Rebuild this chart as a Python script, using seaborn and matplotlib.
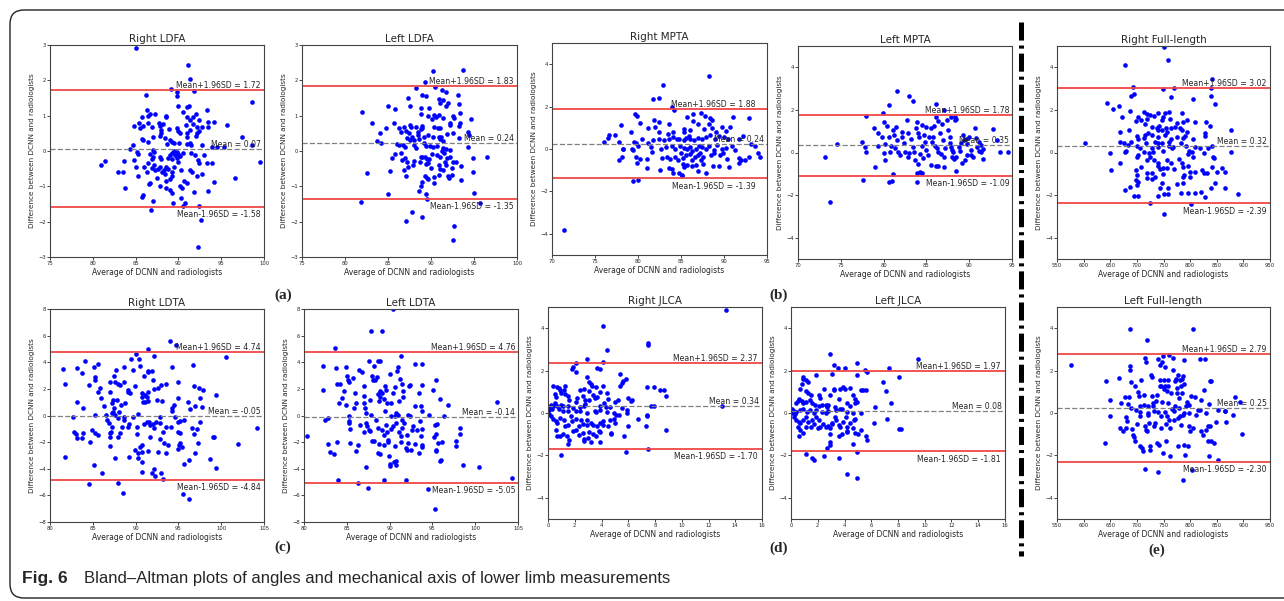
import numpy as np
import pandas as pd
import seaborn as sns
import matplotlib.pyplot as plt
from matplotlib.lines import Line2D
from matplotlib.patches import FancyBboxPatch

sns.set_style("ticks")
plt.rcParams['font.family'] = ['DejaVu Sans']
plt.rcParams['lines.scale_dashes'] = False

# (average, difference) pairs
right_ldfa = [(85.0,2.92),(91.1,2.43),(91.4,2.03),(89.1,1.76),(91.8,1.69),(89.8,1.68),(89.8,1.56),(86.2,1.59),(98.6,1.39),
    (89.9,1.26),(91.0,1.25),(91.2,1.28),(93.3,1.16),(86.3,1.16),(86.7,1.05),(87.3,1.05),(86.4,0.98),(90.5,1.09),(92.0,1.06),
    (85.7,0.95),(88.6,1.0),(88.5,0.96),(91.0,0.97),(91.3,0.88),(91.7,0.95),(92.4,0.88),(85.4,0.8),(85.9,0.72),(86.5,0.8),
    (84.8,0.7),(87.7,0.8),(87.9,0.71),(88.2,0.77),(85.5,0.66),(86.9,0.69),(88.9,0.63),(89.8,0.65),(90.0,0.57),(90.2,0.52),
    (91.3,0.6),(92.2,0.68),(92.4,0.58),(92.7,0.67),(93.4,0.83),(93.5,0.68),(94.2,0.82),(95.7,0.73),(91.7,0.76),(90.9,0.75),
    (97.4,0.4),(92.2,0.5),(92.1,0.43),(91.0,0.52),(91.0,0.4),(88.0,0.6),(88.0,0.5),(87.9,0.43),(87.0,0.4),(85.7,0.33),
    (85.9,0.3),(86.4,0.25),(84.7,0.18),(88.4,0.38),(89.0,0.3),(89.5,0.22),(90.1,0.24),(91.0,0.2),(91.3,0.24),(91.5,0.18),
    (92.7,0.18),(93.9,0.1),(94.5,0.12),(88.7,0.2),(89.2,0.25),(98.6,0.16),(84.3,0.07),(85.2,-0.04),(85.3,-0.08),(84.8,-0.25),
    (87.0,0.03),(87.1,-0.02),(86.7,-0.08),(87.0,-0.16),(86.9,-0.23),(87.8,-0.16),(88.0,-0.23),(89.3,-0.05),(89.6,-0.1),
    (89.8,-0.02),(90.0,-0.08),(90.2,-0.15),(89.8,-0.2),(90.0,-0.32),(89.0,-0.1),(88.8,-0.2),(89.2,-0.23),(91.5,-0.05),
    (91.9,-0.1),(92.3,-0.25),(93.0,-0.1),(92.4,-0.35),(93.3,-0.35),(95.3,0.1),(99.5,-0.3),(89.5,0.0),(90.5,-0.05),
    (87.2,-0.4),(87.6,-0.5),(88.3,-0.55),(88.1,-0.6),(87.9,-0.45),(88.6,-0.45),(88.8,-0.5),(89.3,-0.6),(89.5,-0.45),
    (86.4,-0.35),(86.9,-0.48),(86.0,-0.45),(86.3,-0.6),(86.7,-0.9),(86.6,-0.93),(87.3,-0.55),(85.1,-0.45),(85.3,-0.7),
    (82.9,-0.6),(83.5,-0.6),(80.9,-0.4),(81.4,-0.27),(83.7,-0.27),(90.3,-0.55),(91.3,-0.55),(91.6,-0.6),(92.7,-0.65),
    (92.2,-0.7),(93.9,-0.35),(96.6,-0.76),(89.0,-0.8),(89.2,-0.7),(88.4,-0.65),(90.7,-0.85),(91.0,-0.9),(83.8,-1.05),
    (87.8,-1.0),(89.0,-1.1),(88.6,-1.05),(90.2,-1.0),(90.4,-1.05),(91.8,-1.15),(93.4,-1.12),(94.2,-0.88),(85.7,-1.3),
    (85.9,-1.25),(89.2,-1.2),(90.3,-1.33),(89.4,-1.48),(90.8,-1.48),(90.5,-1.57),(92.4,-1.57),(87.0,-1.42),(86.8,-1.68),
    (92.6,-1.95),(92.3,-2.73),(88.6,-0.85),(87.5,-0.75)]

left_ldfa = [(90.2,2.26),(93.7,2.30),(89.3,1.96),(90.5,1.80),(88.2,1.78),(91.3,1.73),(91.7,1.68),(88.9,1.59),(89.4,1.57),
    (93.1,1.59),(87.3,1.49),(90.9,1.48),(91.4,1.44),(91.1,1.35),(92.0,1.37),(91.8,1.28),(85.0,1.28),(85.8,1.18),(82.0,1.1),
    (87.5,1.26),(88.8,1.21),(89.8,1.23),(93.3,1.33),(93.4,1.07),(88.8,1.05),(90.4,1.02),(90.6,0.96),(90.9,1.02),(89.7,0.98),
    (90.1,0.9),(91.4,0.93),(92.6,0.98),(92.7,0.93),(94.6,0.9),(83.1,0.79),(85.7,0.8),(84.8,0.66),(86.3,0.64),(86.9,0.67),
    (87.6,0.74),(87.7,0.69),(88.3,0.69),(88.9,0.71),(89.0,0.66),(88.8,0.62),(90.3,0.69),(90.8,0.66),(91.1,0.64),(92.2,0.74),
    (92.2,0.79),(93.3,0.71),(93.4,0.79),(84.1,0.5),(86.5,0.55),(87.1,0.58),(87.4,0.52),(88.5,0.55),(88.5,0.46),(87.8,0.41),
    (87.2,0.36),(87.6,0.32),(88.0,0.32),(88.6,0.33),(89.2,0.39),(89.7,0.46),(90.2,0.39),(90.9,0.41),(91.2,0.41),(91.1,0.33),
    (91.4,0.27),(91.9,0.48),(92.5,0.52),(93.3,0.38),(94.3,0.55),(94.4,0.46),(83.7,0.27),(84.2,0.24),(86.1,0.19),(86.3,0.17),
    (86.7,0.16),(87.0,0.1),(88.0,0.16),(88.3,0.08),(89.2,0.22),(89.4,0.13),(89.9,0.13),(90.2,0.1),(90.7,0.13),(91.3,0.0),
    (91.4,0.08),(91.8,0.05),(92.2,0.03),(94.3,0.1),(85.8,-0.09),(86.5,-0.06),(85.5,-0.2),(86.6,-0.25),(87.0,-0.2),
    (87.2,-0.32),(87.3,-0.44),(87.9,-0.41),(88.0,-0.28),(88.7,-0.3),(88.8,-0.17),(89.0,-0.16),(89.3,-0.18),(89.5,-0.23),
    (89.8,-0.23),(90.1,-0.09),(90.7,-0.11),(91.1,-0.16),(91.5,-0.06),(91.6,-0.3),(91.9,-0.2),(92.2,-0.16),(92.5,-0.32),
    (92.9,-0.32),(93.5,-0.42),(94.9,-0.2),(96.5,-0.18),(89.4,-0.36),(89.6,-0.34),(90.0,-0.47),(90.9,-0.39),(91.4,-0.53),
    (92.4,-0.48),(86.9,-0.55),(87.1,-0.7),(85.2,-0.56),(82.5,-0.63),(89.3,-0.7),(89.5,-0.77),(90.4,-0.74),(90.9,-0.67),
    (90.4,-0.91),(89.0,-0.87),(88.8,-1.0),(88.6,-1.14),(89.7,-0.8),(92.0,-0.7),(92.4,-0.67),(92.1,-0.75),(93.5,-0.81),
    (94.9,-0.6),(85.0,-1.21),(89.4,-1.22),(89.5,-1.36),(81.9,-1.44),(95.0,-1.19),(95.7,-1.47),(87.8,-1.74),(87.1,-1.97),
    (89.0,-1.87),(92.7,-2.13),(92.6,-2.53),(91.1,-0.5),(91.8,-0.4)]

right_mpta = [(71.4,-3.82),(88.2,3.45),(82.9,3.04),(81.7,2.35),(82.5,2.41),(84.0,1.99),(84.2,1.86),(87.3,1.72),(85.7,1.53),
    (86.4,1.66),(87.8,1.56),(88.4,1.48),(88.6,1.39),(91.0,1.51),(92.9,1.44),(79.6,1.66),(79.9,1.56),(81.9,1.39),(80.2,1.23),
    (82.4,1.28),(81.2,1.01),(82.0,1.03),(78.0,1.11),(83.6,1.2),(87.0,1.2),(86.4,1.34),(88.2,1.17),(85.4,0.95),(85.4,0.82),
    (83.5,0.73),(84.1,0.78),(82.4,0.79),(86.1,0.9),(87.7,0.95),(88.6,1.01),(89.1,0.82),(89.8,1.04),(90.2,0.86),(90.7,1.02),
    (79.2,0.78),(76.6,0.65),(77.3,0.65),(76.5,0.54),(76.1,0.35),(77.8,0.34),(79.5,0.35),(79.8,0.26),(80.5,0.48),(81.7,0.42),
    (81.2,0.29),(82.5,0.49),(83.0,0.42),(83.6,0.49),(84.1,0.57),(84.5,0.46),(84.8,0.45),(85.3,0.42),(85.6,0.53),(85.9,0.62),
    (86.1,0.49),(86.5,0.42),(87.0,0.54),(87.5,0.46),(87.9,0.57),(88.4,0.65),(89.0,0.45),(89.4,0.6),(90.0,0.57),(90.5,0.45),
    (91.8,0.49),(92.2,0.6),(93.1,0.23),(93.6,0.13),(78.3,0.0),(78.3,-0.01),(79.3,0.02),(79.4,-0.05),(80.0,0.13),(81.5,0.1),
    (82.7,0.02),(83.2,0.1),(83.9,0.13),(84.3,-0.02),(84.9,0.13),(85.0,-0.18),(85.4,0.07),(85.7,-0.02),(86.1,0.1),(86.3,-0.09),
    (86.7,0.02),(87.1,0.13),(87.4,0.1),(87.9,0.02),(88.2,0.15),(88.8,-0.05),(89.2,0.18),(89.8,-0.02),(90.2,0.05),(90.9,0.13),
    (91.3,-0.05),(77.8,-0.51),(78.1,-0.37),(79.8,-0.37),(80.2,-0.45),(81.0,-0.49),(81.6,-0.13),(82.8,-0.42),(83.4,-0.37),
    (83.7,-0.45),(84.3,-0.37),(84.7,-0.53),(85.2,-0.42),(85.6,-0.29),(86.1,-0.24),(86.3,-0.53),(86.6,-0.37),(87.0,-0.29),
    (87.2,-0.21),(87.6,-0.37),(88.5,-0.29),(88.8,-0.21),(89.5,-0.29),(89.9,-0.18),(90.4,-0.45),(91.8,-0.42),(92.4,-0.53),
    (92.9,-0.37),(94.0,-0.21),(94.2,-0.37),(79.9,-0.64),(81.0,-0.89),(82.6,-1.0),(83.6,-0.89),(83.9,-0.92),(84.1,-1.15),
    (84.8,-1.12),(85.1,-1.23),(85.2,-0.71),(85.4,-0.84),(86.3,-0.81),(86.8,-0.75),(87.0,-1.04),(87.6,-0.71),(87.9,-1.11),
    (88.7,-0.81),(89.4,-0.79),(90.6,-0.84),(91.7,-0.64),(79.4,-1.53),(80.0,-1.47),(85.1,-1.26),(92.0,-0.53),(85.7,-0.76),
    (87.3,-0.53)]

left_mpta = [(73.2,-0.23),(73.7,-2.32),(74.6,0.38),(77.5,0.48),(77.9,1.71),(77.8,0.27),(77.9,0.01),(77.6,-1.29),(78.9,1.15),
    (79.3,0.32),(79.4,0.92),(79.0,-0.68),(79.9,1.84),(80.1,1.45),(80.4,1.26),(79.8,0.71),(80.6,0.74),(80.2,0.4),(80.1,-0.04),
    (80.2,-0.35),(80.7,0.01),(80.6,2.25),(80.9,0.3),(81.1,1.06),(81.4,1.21),(81.2,0.82),(81.3,0.2),(81.6,0.59),(81.7,0.04),
    (81.9,-0.12),(80.6,-1.37),(81.0,-1.32),(81.1,-1.01),(81.6,2.9),(82.1,0.98),(82.2,0.74),(82.4,0.43),(82.7,1.53),(82.8,0.9),
    (83.0,2.65),(83.4,2.43),(83.2,0.63),(83.4,0.24),(83.6,0.04),(83.9,1.45),(83.8,1.13),(84.0,0.9),(84.1,0.74),(83.7,-0.35),
    (84.0,-0.56),(83.9,-0.98),(84.2,-0.93),(84.5,-0.95),(83.9,-1.4),(84.5,1.29),(84.7,0.82),(84.8,0.51),(84.5,0.3),(85.0,0.12),
    (85.2,-0.12),(84.6,-0.24),(84.3,-0.09),(85.6,0.51),(85.8,0.74),(85.9,1.24),(86.1,1.65),(86.1,2.26),(86.4,1.5),(86.8,1.34),
    (86.6,0.9),(86.9,0.59),(86.0,0.3),(86.2,0.2),(86.4,0.04),(86.7,-0.09),(87.0,-0.2),(85.5,-0.59),(86.1,-0.63),(86.4,-0.63),
    (87.1,-0.66),(87.1,2.0),(87.4,1.53),(87.5,1.06),(87.7,0.74),(87.8,0.46),(87.9,0.27),(88.1,0.01),(88.0,-0.2),(88.2,-0.32),
    (88.3,1.53),(88.5,1.57),(87.9,1.68),(88.3,1.65),(88.4,-0.85),(88.8,0.27),(88.9,0.07),(89.0,0.43),(89.3,0.82),(89.4,0.59),
    (89.5,-0.35),(89.2,-0.51),(89.6,0.63),(89.8,0.4),(90.0,0.71),(90.2,0.12),(90.2,-0.12),(90.5,-0.2),(90.7,1.13),(90.9,0.27),
    (90.8,0.66),(91.1,0.09),(91.2,0.51),(91.4,0.35),(91.4,0.01),(91.6,0.16),(91.6,-0.32),(92.8,1.1),(93.2,0.59),(93.6,0.01),
    (94.5,0.01),(88.0,0.12),(87.2,0.2),(82.5,0.04),(83.0,-0.04),(82.8,-0.2),(85.3,0.74),(85.5,1.13),(84.9,1.21),(88.5,-0.2),
    (89.7,-0.12)]

right_full = [(751.3,4.94),(758.1,4.34),(678.1,4.11),(692.5,3.09),(748.8,2.97),(768.8,3.01),(840.6,3.44),(838.8,3.01),
    (695.0,2.75),(688.8,2.65),(763.8,2.59),(805.0,2.5),(838.8,2.65),(846.9,2.26),(643.8,2.34),(654.4,2.03),(665.6,2.18),
    (687.5,1.96),(713.8,1.92),(718.8,1.81),(738.8,1.84),(753.1,1.87),(759.4,1.89),(784.4,1.84),(793.8,1.53),(809.4,1.45),
    (829.4,1.45),(836.9,1.24),(672.5,1.68),(697.5,1.48),(701.9,1.65),(708.1,1.53),(718.8,1.57),(723.8,1.76),(732.5,1.71),
    (746.9,1.53),(748.8,1.68),(761.3,1.56),(775.0,1.37),(787.5,1.45),(714.4,1.34),(728.1,1.21),(737.5,1.14),(738.8,1.06),
    (741.9,1.24),(746.9,1.06),(754.4,1.14),(756.3,0.98),(763.8,1.14),(771.9,1.21),(781.3,1.14),(785.0,1.06),(793.8,0.98),
    (877.5,1.06),(667.5,0.98),(684.4,1.06),(714.4,0.82),(720.6,0.93),(700.0,0.78),(701.3,0.64),(728.8,0.82),(740.6,0.71),
    (753.1,0.82),(763.8,0.62),(775.0,0.71),(787.5,0.67),(790.6,0.78),(805.0,0.62),(828.1,0.9),(828.1,0.78),(713.8,0.69),
    (668.8,0.51),(675.0,0.43),(683.1,0.35),(688.1,0.48),(603.1,0.43),(700.0,0.3),(706.3,0.23),(717.5,0.43),(728.1,0.2),
    (734.4,0.51),(738.8,0.43),(746.9,0.46),(759.4,0.51),(767.5,0.24),(782.5,0.46),(791.9,0.3),(818.8,0.2),(834.4,0.2),
    (840.6,0.3),(680.0,0.09),(676.9,0.01),(712.5,0.04),(721.9,-0.04),(730.0,0.04),(740.6,0.24),(748.8,0.07),(759.4,0.3),
    (765.6,0.2),(798.8,0.09),(803.1,0.01),(809.4,0.24),(877.5,0.04),(648.8,-0.01),(700.0,-0.23),(701.9,-0.12),(718.8,-0.35),
    (725.0,-0.23),(731.3,-0.35),(738.8,-0.48),(757.5,-0.35),(763.8,-0.48),(780.0,-0.32),(784.4,-0.51),(796.9,-0.07),
    (805.0,-0.2),(826.9,-0.04),(842.5,-0.2),(844.4,-0.27),(667.5,-0.51),(707.5,-0.66),(739.4,-0.62),(748.8,-0.74),
    (743.8,-0.77),(756.3,-0.74),(768.8,-0.77),(786.9,-0.66),(796.3,-0.63),(799.4,-0.9),(808.8,-0.9),(823.1,-0.82),
    (840.6,-0.66),(860.6,-0.74),(865.0,-0.9),(651.3,-0.82),(698.1,-0.82),(700.0,-1.06),(728.1,-0.98),(748.8,-1.01),
    (789.4,-1.06),(800.0,-1.14),(826.9,-0.98),(832.5,-0.95),(851.3,-0.9),(698.1,-1.29),(718.8,-1.21),(734.4,-1.17),
    (786.3,-1.14),(718.8,-0.98),(727.5,-1.26),(787.5,-1.42),(846.3,-1.42),(775.0,-1.48),(700.0,-1.53),(746.9,-1.42),
    (702.0,-1.4),(676.9,-1.76),(687.5,-1.6),(743.8,-1.68),(758.8,-1.68),(783.1,-1.89),(796.9,-1.92),(809.4,-1.89),
    (820.0,-1.84),(838.8,-1.68),(865.0,-1.65),(889.4,-1.95),(695.0,-2.03),(702.5,-2.03),(740.0,-2.03),(751.3,-1.95),
    (758.8,-1.97),(723.8,-2.39),(801.3,-2.44),(750.0,-2.9),(828.0,-2.07)]

right_ldta = [(81.5,3.48),(81.7,2.35),(81.7,-3.1),(82.7,-0.09),(83.2,0.99),(83.2,3.6),(82.8,-1.22),(83.0,-1.4),(83.2,-1.72),
    (83.7,3.18),(83.8,0.59),(83.8,-1.29),(83.7,-1.72),(84.1,4.06),(84.5,2.3),(84.7,-2.02),(84.6,-5.16),(84.9,-1.09),
    (85.1,3.63),(85.1,-3.73),(85.2,0.04),(85.2,2.68),(85.3,2.88),(85.3,-1.29),(85.6,3.86),(85.6,1.8),(85.6,-1.47),(85.8,2.05),
    (85.9,1.29),(86.1,-4.31),(86.3,0.72),(86.6,0.04),(87.0,2.55),(87.0,1.8),(86.7,-0.34),(86.9,-0.59),(87.0,-1.34),(87.0,-1.6),
    (87.1,-1.22),(87.2,0.16),(87.3,0.92),(87.0,-2.3),(87.3,-0.84),(87.4,0.29),(87.4,1.17),(87.5,2.93),(87.6,2.55),(87.5,0.54),
    (87.6,-3.23),(87.7,3.43),(87.6,0.04),(87.8,1.17),(87.9,-1.6),(88.0,-0.21),(88.0,2.35),(88.1,0.29),(88.2,2.3),(88.0,-5.06),
    (88.3,0.79),(88.2,-1.34),(88.4,-0.84),(88.6,-0.14),(88.6,2.48),(88.7,3.63),(88.8,0.92),(88.5,-5.79),(88.7,-0.34),
    (89.1,1.92),(89.1,1.8),(89.2,-0.64),(89.1,-0.84),(89.2,-3.15),(89.4,1.67),(89.5,4.26),(89.7,3.43),(89.7,-0.09),(89.9,2.22),
    (89.9,-2.6),(90.1,4.61),(90.2,-0.84),(90.2,-1.4),(90.3,-2.85),(90.3,-3.18),(90.4,4.26),(90.3,0.09),(90.5,3.73),(90.5,-2.35),
    (90.7,1.67),(90.7,1.42),(90.7,-3.48),(90.8,-2.18),(90.8,-2.73),(90.8,-4.26),(90.9,1.04),(91.0,2.93),(91.0,-0.64),
    (91.1,1.54),(91.1,0.99),(91.3,1.42),(91.3,-0.51),(91.4,-2.68),(91.4,3.3),(91.4,3.38),(91.5,4.99),(91.4,1.8),(91.5,1.12),
    (91.6,-0.47),(91.7,-0.72),(91.7,-1.65),(91.9,3.36),(91.9,-4.31),(92.0,2.68),(92.0,-0.64),(92.1,1.97),(92.2,4.48),
    (92.2,-3.99),(92.2,-0.97),(92.3,-4.57),(92.4,-0.47),(92.5,1.17),(92.6,2.1),(92.6,-2.73),(92.8,-0.09),(92.9,-1.8),
    (92.9,-0.59),(93.0,2.3),(93.0,-4.31),(93.1,1.12),(93.2,-1.22),(93.2,-4.79),(93.3,-2.09),(93.6,2.38),(93.6,-0.84),
    (93.6,-2.85),(93.8,-2.18),(94.0,5.57),(94.1,-0.84),(94.2,3.63),(94.2,0.34),(94.3,0.54),(94.5,0.79),(94.6,-0.14),
    (94.7,5.32),(94.9,2.48),(95.0,1.29),(94.9,-1.22),(94.9,-2.55),(95.0,-0.47),(95.2,-2.09),(95.1,-2.22),(95.2,-1.34),
    (95.4,-2.35),(95.2,-0.39),(95.5,-5.86),(95.6,-3.66),(95.7,-0.34),(96.1,1.04),(96.2,-3.36),(96.2,-6.25),(96.4,0.47),
    (96.6,-0.97),(96.7,3.76),(96.8,2.22),(96.8,-1.4),(96.9,0.72),(96.9,-2.85),(97.2,-1.04),(97.3,-2.04),(97.4,2.1),(97.5,1.29),
    (97.5,-0.47),(97.7,0.67),(97.9,1.92),(98.7,-3.28),(99.0,-1.6),(99.2,-1.6),(99.4,1.54),(99.4,-3.94),(100.6,4.39),
    (102.0,-2.15),(104.2,-0.97)]

left_ldta = [(80.4,-1.51),(82.2,3.74),(82.2,1.94),(82.5,-0.31),(82.8,-0.19),(82.8,-2.14),(83.0,-2.77),(83.5,-2.89),(83.6,5.07),
    (83.7,3.57),(83.8,-1.99),(83.9,2.37),(84.0,-4.82),(84.1,0.94),(84.2,2.37),(84.4,1.31),(84.7,1.82),(84.9,3.62),(84.9,0.81),
    (85.0,2.94),(85.1,2.69),(85.2,2.49),(85.2,-0.44),(85.3,-0.06),(85.3,-0.56),(85.4,-1.01),(85.4,-2.07),(85.7,2.82),
    (85.8,0.56),(86.0,1.69),(86.1,0.94),(86.1,-2.69),(86.3,-2.24),(86.3,-5.07),(86.4,3.39),(86.5,-0.69),(86.8,3.24),(87.0,1.49),
    (87.0,2.19),(87.0,0.94),(87.0,-1.26),(87.1,0.56),(87.2,-0.56),(87.2,-3.87),(87.3,0.19),(87.4,-0.81),(87.5,-5.45),
    (87.6,4.06),(87.6,-1.11),(87.7,1.14),(87.7,-1.19),(87.8,6.37),(87.8,0.06),(87.9,2.94),(88.0,-1.94),(88.1,2.69),(88.2,3.74),
    (88.2,-1.94),(88.3,2.69),(88.4,-0.31),(88.5,2.87),(88.6,-0.94),(88.6,4.11),(88.7,1.64),(88.7,-2.82),(88.8,1.06),
    (88.8,-2.14),(88.9,4.09),(88.9,1.37),(88.9,-2.87),(88.9,1.82),(89.1,1.69),(89.1,-1.06),(89.1,6.32),(89.3,-2.24),(89.3,1.24),
    (89.3,-4.82),(89.3,-1.44),(89.5,2.19),(89.5,0.31),(89.6,1.94),(89.6,-0.69),(89.7,0.94),(89.7,-1.26),(89.8,-1.82),
    (89.8,-1.99),(89.9,-3.07),(90.0,-3.79),(90.0,3.12),(90.0,-3.67),(90.2,0.94),(90.2,-0.06),(90.2,-1.01),(90.4,1.69),
    (90.4,7.99),(90.4,-0.81),(90.5,-3.52),(90.6,2.14),(90.6,-0.06),(90.6,-2.32),(90.7,-3.39),(90.8,-3.69),(90.7,-0.56),
    (90.8,0.19),(90.9,3.32),(91.0,3.64),(91.0,0.01),(91.1,-1.26),(91.1,1.06),(91.2,2.74),(91.3,4.49),(91.3,-1.51),(91.3,-2.01),
    (91.4,-0.31),(91.5,-0.94),(91.5,2.39),(91.6,1.82),(91.6,1.39),(91.7,-0.56),(91.9,-4.87),(91.9,-2.44),(92.0,-1.44),
    (92.0,-2.57),(92.1,-2.07),(92.2,0.06),(92.3,2.19),(92.4,2.32),(92.4,-0.06),(92.5,-2.57),(92.6,-1.06),(92.7,-0.81),
    (93.0,3.89),(93.0,0.69),(93.0,-2.11),(93.2,-1.11),(93.4,-2.82),(93.4,1.69),(93.6,-0.44),(93.7,-1.56),(93.7,0.69),
    (93.8,2.32),(93.8,0.36),(93.8,3.89),(93.8,-2.19),(93.8,-2.39),(93.8,-1.01),(94.6,0.06),(94.5,-5.52),(95.1,1.94),
    (95.2,-1.61),(95.3,-0.69),(95.4,-2.69),(95.4,2.64),(95.4,-2.62),(95.5,-0.61),(95.7,-2.07),(95.3,-7.0),(95.9,1.24),
    (95.9,-3.44),(96.0,-3.32),(96.1,-2.01),(96.4,-0.06),(96.8,0.81),(97.7,-1.94),(97.7,-2.27),(98.2,-1.36),(98.2,-0.94),
    (98.6,-3.74),(100.4,-3.89),(102.5,0.99),(104.3,-4.69),(95.4,-1.36)]

right_jlca = [(13.3,4.84),(4.1,4.09),(7.5,3.3),(7.5,3.19),(4.4,2.96),(2.9,2.56),(2.1,2.36),(4.1,2.39),(1.9,2.17),(1.8,2.08),
    (3.7,2.12),(3.9,2.08),(2.1,1.92),(5.4,1.84),(2.9,1.68),(5.8,1.6),(5.6,1.49),(5.5,1.42),(5.4,1.26),(3.1,1.45),(3.3,1.29),
    (3.6,1.23),(3.2,1.37),(4.1,1.26),(2.4,1.1),(2.7,1.13),(7.4,1.23),(7.9,1.23),(8.4,1.1),(8.7,1.07),(8.8,0.82),(0.4,1.29),
    (0.7,1.21),(0.8,1.18),(0.9,1.1),(1.2,1.1),(1.3,1.29),(1.0,0.94),(1.3,0.9),(1.5,0.82),(0.5,0.91),(0.6,0.74),(1.6,0.63),
    (2.2,0.71),(2.6,0.79),(2.8,0.63),(3.1,1.02),(3.4,0.86),(3.5,0.71),(3.7,0.75),(3.9,0.99),(4.4,0.94),(4.5,0.66),(5.2,0.63),
    (6.0,0.71),(6.2,0.55),(6.3,0.63),(5.0,0.5),(3.1,0.63),(4.2,0.47),(4.3,0.28),(4.6,0.28),(3.9,0.35),(2.7,0.35),(2.8,0.42),
    (2.1,0.5),(2.4,0.28),(7.9,0.31),(7.7,0.35),(13.0,0.35),(0.1,0.28),(0.2,0.39),(0.3,0.19),(0.1,0.13),(0.1,-0.03),(0.4,0.31),
    (0.5,0.47),(0.7,0.31),(0.8,0.19),(1.0,0.39),(1.1,0.11),(1.5,0.08),(1.1,0.31),(1.5,0.31),(1.9,0.24),(2.1,0.08),(2.4,0.11),
    (2.9,0.0),(3.5,0.08),(3.6,0.03),(3.9,0.16),(4.4,0.03),(4.9,0.0),(5.1,-0.08),(5.5,0.24),(5.9,0.16),(5.9,0.0),(6.7,-0.28),
    (7.4,-0.16),(7.4,-0.08),(0.2,-0.16),(0.4,-0.28),(0.6,-0.39),(0.7,-0.47),(0.9,-0.24),(1.2,-0.35),(1.3,-0.63),(1.5,-0.58),
    (1.7,-0.16),(1.8,-0.39),(2.1,-0.28),(2.3,-0.6),(2.5,-0.31),(2.6,-0.5),(2.9,-0.35),(2.9,-0.58),(3.2,-0.47),(3.4,-0.55),
    (3.7,-0.63),(3.9,-0.47),(4.1,-0.55),(4.1,-0.39),(4.5,-0.63),(4.6,-0.31),(4.9,-0.28),(5.3,-0.08),(6.0,-0.63),(7.3,-0.63),
    (0.6,-0.79),(0.9,-1.07),(0.7,-1.1),(1.1,-0.97),(1.4,-1.07),(1.6,-1.26),(1.5,-1.45),(1.9,-0.86),(2.1,-0.79),(2.6,-0.94),
    (2.7,-1.23),(3.0,-1.18),(3.1,-0.9),(3.2,-1.38),(2.7,-1.34),(3.4,-0.97),(3.8,-0.86),(3.9,-0.91),(3.9,-1.38),(4.7,-0.94),
    (4.7,-0.97),(5.7,-1.1),(8.8,-0.79),(1.0,-2.0),(5.8,-1.84),(7.5,-1.68),(2.3,-1.02),(3.6,-1.1),(5.0,-0.47)]

left_jlca = [(9.5,2.54),(2.9,2.8),(3.2,2.25),(3.5,2.14),(4.0,2.1),(4.9,2.36),(5.5,2.02),(5.7,1.94),(7.3,2.14),(3.1,1.86),
    (4.9,1.78),(1.9,1.78),(8.1,1.7),(0.9,1.7),(0.9,1.62),(1.1,1.58),(0.8,1.36),(1.3,1.47),(6.9,1.47),(3.2,1.15),(3.2,1.08),
    (2.5,1.12),(3.7,1.15),(3.9,1.23),(4.0,1.15),(4.4,1.18),(5.2,1.08),(5.4,1.08),(5.6,1.1),(7.1,1.04),(0.7,1.15),(1.1,1.03),
    (1.3,0.95),(1.5,0.87),(2.1,0.84),(2.2,0.71),(2.9,0.84),(3.6,0.65),(4.6,0.84),(4.8,0.68),(4.9,0.53),(0.4,0.45),(0.5,0.57),
    (0.6,0.64),(0.8,0.57),(0.9,0.45),(1.1,0.53),(1.4,0.6),(1.6,0.48),(1.8,0.37),(2.1,0.32),(2.3,0.37),(2.6,0.37),(2.7,0.26),
    (2.8,0.37),(3.3,0.26),(3.7,0.21),(4.2,0.45),(4.4,0.32),(4.8,0.45),(7.5,0.48),(6.3,0.26),(0.1,0.21),(0.2,0.09),(0.1,-0.02),
    (0.3,-0.05),(0.4,0.05),(0.7,0.13),(0.9,0.21),(1.2,0.05),(1.4,0.13),(1.7,-0.02),(1.9,0.13),(2.3,0.05),(2.6,-0.02),(2.8,0.1),
    (3.4,0.13),(3.8,0.21),(4.2,0.05),(4.6,0.01),(5.2,-0.02),(0.2,-0.18),(0.4,-0.31),(0.6,-0.42),(0.7,-0.49),(0.9,-0.34),
    (1.1,-0.18),(1.3,-0.42),(1.6,-0.31),(1.7,-0.54),(1.9,-0.21),(2.1,-0.34),(2.4,-0.53),(2.6,-0.65),(2.8,-0.62),(3.1,-0.46),
    (3.3,-0.21),(3.4,-0.31),(3.6,-0.57),(3.9,-0.42),(4.1,-0.21),(4.2,-0.65),(4.4,-0.49),(4.7,-0.34),(4.8,-0.26),(6.2,-0.49),
    (7.2,-0.26),(8.1,-0.76),(8.2,-0.76),(0.5,-0.65),(0.7,-0.81),(1.1,-0.65),(1.5,-0.65),(2.0,-0.73),(2.2,-0.65),(2.9,-0.73),
    (3.1,-0.5),(3.7,-0.65),(4.2,-0.84),(4.6,-0.73),(5.2,-0.78),(5.6,-1.09),(5.7,-1.25),(0.6,-1.09),(0.9,-0.93),(2.9,-0.97),
    (3.6,-1.09),(3.8,-0.97),(4.2,-0.89),(4.8,-0.93),(2.9,-1.36),(2.7,-1.67),(2.9,-1.52),(4.6,-1.44),(4.9,-1.86),(1.1,-1.94),
    (1.6,-2.13),(1.7,-2.2),(2.5,-2.04),(3.6,-2.12),(4.2,-2.9),(4.9,-3.08),(5.0,-1.0)]

left_full = [(576.9,2.28),(639.4,-1.42),(641.3,1.49),(650.0,0.6),(648.8,-0.16),(666.9,1.65),(667.5,-0.71),(669.4,0.47),
    (673.8,-0.86),(676.9,0.75),(678.8,-0.19),(680.0,-0.71),(681.3,-0.39),(683.1,0.44),(685.0,0.75),(686.3,2.23),(686.3,2.04),
    (687.5,3.96),(688.1,1.45),(689.4,0.24),(691.3,-0.75),(692.5,-1.02),(693.8,-1.13),(695.6,1.26),(695.6,-1.34),(697.5,0.16),
    (700.6,-0.5),(701.9,0.97),(703.8,0.79),(705.0,-0.16),(705.0,0.03),(706.3,0.31),(706.3,-1.57),(708.1,1.57),(709.4,-1.65),
    (711.3,-1.81),(712.5,0.39),(713.1,0.86),(714.4,-0.63),(715.6,2.59),(716.3,2.39),(715.6,-2.64),(717.5,-0.79),(718.8,-0.86),
    (719.4,3.46),(720.0,0.0),(720.6,0.31),(720.6,-0.08),(722.5,-0.47),(723.8,-1.54),(725.0,-1.76),(726.9,1.81),(728.8,1.7),
    (727.5,0.79),(729.4,0.47),(730.6,0.31),(732.5,0.08),(732.5,-0.63),(734.4,-0.47),(736.3,0.55),(737.5,0.86),(737.5,-1.42),
    (739.4,2.55),(739.4,-2.8),(740.6,0.03),(741.3,-1.49),(742.5,2.28),(742.5,1.57),(743.1,1.26),(744.4,1.29),(745.6,-0.13),
    (745.6,-0.71),(747.5,2.39),(747.5,0.5),(748.8,2.67),(748.8,-1.89),(750.0,1.57),(750.6,1.13),(751.9,1.26),(752.5,2.15),
    (753.1,0.03),(753.8,-0.5),(755.0,-1.34),(756.3,1.02),(756.9,-0.13),(758.1,1.57),(758.1,1.26),(758.8,0.47),(760.0,-0.31),
    (760.0,2.75),(761.3,-2.01),(762.5,-0.71),(764.4,0.94),(766.3,0.19),(767.5,2.59),(767.5,2.01),(768.8,0.08),(769.4,-0.31),
    (771.9,1.49),(772.5,0.35),(773.8,1.6),(775.0,1.18),(775.6,0.94),(776.9,-1.57),(776.9,-0.24),(778.1,1.81),(778.8,0.24),
    (780.0,0.71),(781.3,1.57),(781.3,-0.13),(783.1,1.29),(783.1,-0.55),(784.4,1.6),(785.0,0.94),(786.3,-0.08),(786.3,1.73),
    (787.5,-3.14),(788.1,0.0),(788.1,-1.53),(789.4,2.52),(789.4,1.38),(791.3,-1.97),(792.5,0.31),(794.4,0.5),(795.6,-1.57),
    (797.5,-0.63),(798.8,0.0),(798.8,0.39),(800.6,-0.86),(801.9,0.79),(803.1,-2.67),(805.6,3.98),(805.6,-0.71),(808.8,0.75),
    (811.9,-0.08),(815.0,0.13),(818.1,0.16),(818.1,2.55),(821.3,0.63),(821.3,-0.86),(824.4,-1.02),(825.6,1.1),(827.5,2.55),
    (829.4,0.0),(830.6,-0.82),(833.8,-0.63),(835.0,0.44),(833.8,-1.34),(835.0,-2.04),(836.9,-0.63),(838.1,1.53),(840.0,1.49),
    (840.0,-1.34),(845.0,-1.42),(849.4,-0.44),(852.5,0.16),(852.5,-2.2),(866.3,0.08),(868.1,-0.44),(880.6,-0.08),(883.8,0.74),
    (893.1,0.52),(898.1,-0.97),(865.0,0.08)]

panels = [right_ldfa, left_ldfa, right_mpta, left_mpta, right_full,
          right_ldta, left_ldta, right_jlca, left_jlca, left_full]
titles = ['Right LDFA', 'Left LDFA', 'Right MPTA', 'Left MPTA', 'Right Full-length',
          'Right LDTA', 'Left LDTA', 'Right JLCA', 'Left JLCA', 'Left Full-length']
means = [0.07, 0.24, 0.24, 0.35, 0.32, -0.05, -0.14, 0.34, 0.08, 0.25]
upper = [1.72, 1.83, 1.88, 1.78, 3.02, 4.74, 4.76, 2.37, 1.97, 2.79]
lower = [-1.58, -1.35, -1.39, -1.09, -2.39, -4.84, -5.05, -1.70, -1.81, -2.30]
xlims = [(75, 100), (75, 100), (70, 95), (70, 95), (550, 950),
         (80, 105), (80, 105), (0, 16), (0, 16), (550, 950)]
ylims = [(-3, 3), (-3, 3), (-5, 5), (-5, 5), (-5, 5),
         (-8, 8), (-8, 8), (-5, 5), (-5, 5), (-5, 5)]
panel_tags = ['(a)', '(b)', '(c)', '(d)', '(e)']

W, H = 1284, 601
fig = plt.figure(figsize=(W / 100, H / 100), dpi=100)

# axes boxes in pixels (left, top, right, bottom)
boxes = [(50, 45, 264, 257), (302, 45, 517, 257), (552, 43, 767, 255), (798, 46, 1012, 259), (1057, 46, 1270, 259),
         (50, 309, 264, 522), (304, 309, 518, 522), (548, 307, 762, 519), (791, 307, 1005, 519), (1057, 307, 1270, 519)]
sd_xpos = [0.985, 0.985, 0.946, 0.99, 0.984, 0.984, 0.987, 0.98, 0.981, 0.984]

for i, pts in enumerate(panels):
    x0, y0, x1, y1 = boxes[i]
    ax = fig.add_axes([x0 / W, 1 - y1 / H, (x1 - x0) / W, (y1 - y0) / H])
    df = pd.DataFrame(pts, columns=['avg', 'diff'])
    sns.scatterplot(data=df, x='avg', y='diff', ax=ax, color='blue', s=11, linewidth=0)
    ax.axhline(means[i], color='gray', ls='--', lw=0.9)
    ax.axhline(upper[i], color='#f04848', lw=1.3)
    ax.axhline(lower[i], color='#f04848', lw=1.3)
    tr = ax.get_yaxis_transform()
    ax.text(sd_xpos[i], upper[i], f'Mean+1.96SD = {upper[i]:.2f}', transform=tr,
            ha='right', va='bottom', fontsize=5.6)
    ax.text(0.985, means[i], f'Mean = {means[i]:.2f}', transform=tr,
            ha='right', va='bottom', fontsize=5.6)
    ax.text(sd_xpos[i], lower[i] - (ylims[i][1] - ylims[i][0]) * 0.015,
            f'Mean-1.96SD = {lower[i]:.2f}', transform=tr,
            ha='right', va='top', fontsize=5.6)
    ax.set_xlim(*xlims[i])
    ax.set_ylim(*ylims[i])
    ax.set_title(titles[i], fontsize=7.5, pad=2)
    ax.set_xlabel('Average of DCNN and radiologists', fontsize=5.5, labelpad=1)
    ax.set_ylabel('Difference between DCNN and radiologists', fontsize=5.2, labelpad=2)
    ax.tick_params(labelsize=3.8, length=2, width=0.6, pad=1)
    for sp in ax.spines.values():
        sp.set_linewidth(0.8)
        sp.set_color('#444444')

# panel tags
tag_pos = [(283, 295), (779, 295), (283, 547), (779, 548), (1157, 550)]
for tag, (px, py) in zip(panel_tags, tag_pos):
    fig.text(px / W, 1 - py / H, tag, fontsize=11, fontweight='bold',
             family=['Liberation Serif', 'DejaVu Serif'], ha='center', va='center')

# dash-dot separator
fig.add_artist(Line2D([1021 / W, 1021 / W], [1 - 22 / H, 1 - 556 / H], color='black',
                      lw=3.6, dashes=[13, 3.6, 2.2, 3.6], transform=fig.transFigure))

# rounded frame
frame = FancyBboxPatch((0.10, 0.03), 13.5, 5.88, boxstyle='round,pad=0,rounding_size=0.14',
                       transform=fig.dpi_scale_trans, fill=False, edgecolor='#222222', lw=1.0)
fig.add_artist(frame)

# caption
cap_font = ['Liberation Sans', 'DejaVu Sans']
fig.text(22 / W, 1 - 578 / H, 'Fig. 6', fontsize=12.5, fontweight='bold', family=cap_font, va='center')
fig.text(84 / W, 1 - 578 / H, 'Bland\u2013Altman plots of angles and mechanical axis of lower limb measurements',
         fontsize=12, family=cap_font, va='center')

fig.savefig('out.png', dpi=100)
